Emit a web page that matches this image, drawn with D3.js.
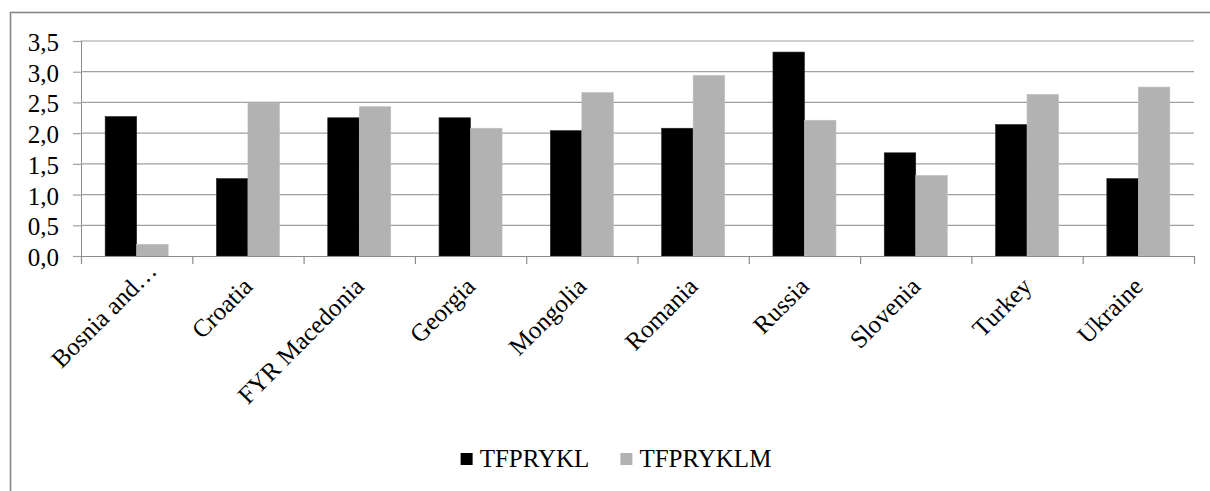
<!DOCTYPE html>
<html>
<head>
<meta charset="utf-8">
<script src="https://cdn.jsdelivr.net/npm/d3@7"></script>
</head>
<body style="margin:0;background:#fff">
<svg id="chart" width="1210" height="491" style="display:block"></svg>
<script>
// Countries on the category axis
const categories = ["Bosnia and\u2026", "Croatia", "FYR Macedonia", "Georgia", "Mongolia",
                    "Romania", "Russia", "Slovenia", "Turkey", "Ukraine"];
// Series names
const seriesNames = ["TFPRYKL", "TFPRYKLM"];
// Series values per country
const tfprykl  = [2.27, 1.26, 2.25, 2.25, 2.04, 2.08, 3.32, 1.68, 2.14, 1.26];
const tfpryklm = [0.19, 2.49, 2.43, 2.08, 2.66, 2.94, 2.21, 1.31, 2.63, 2.75];
// Value axis ticks
const yTicks = [0, 0.5, 1.0, 1.5, 2.0, 2.5, 3.0, 3.5];

const seriesValues = [tfprykl, tfpryklm];
const seriesColors = ["#000000", "#b2b2b2"];
const FONT = "Liberation Serif";
const FS = "25px";

const svg = d3.select("#chart");
const W = 1210, H = 491;
const plot = { left: 81, right: 1194, top: 41, bottom: 256 };

// Outer chart frame (extends past the right and bottom edge)
svg.append("rect")
  .attr("x", 10.5).attr("y", 12.5)
  .attr("width", W + 20).attr("height", H + 20)
  .attr("fill", "#fff")
  .attr("stroke", "#878787").attr("stroke-width", 1.6);

const x = d3.scaleBand()
  .domain(categories)
  .range([plot.left, plot.right])
  .paddingInner(0)
  .paddingOuter(0);

const y = d3.scaleLinear()
  .domain([0, 3.5])
  .range([plot.bottom, plot.top]);

const barGroupFrac = 0.566;
const x1 = d3.scaleBand()
  .domain(d3.range(seriesNames.length))
  .range([0, x.bandwidth() * barGroupFrac]);

// Value axis with tick marks
const yAxis = d3.axisLeft(y)
  .tickValues(yTicks)
  .tickSize(8)
  .tickPadding(14)
  .tickFormat(d => d3.format(".1f")(d).replace(".", ","));

const gy = svg.append("g")
  .attr("transform", `translate(${plot.left},0)`)
  .call(yAxis)
  .attr("font-family", FONT)
  .attr("font-size", FS);
gy.select(".domain").attr("stroke", "#8c8c8c").attr("stroke-width", 1)
  .attr("d", `M0.5,${plot.top}V${plot.bottom}`);
gy.selectAll(".tick line").attr("stroke", "#a0a0a0").attr("stroke-width", 1.2);
gy.selectAll(".tick text")
  .style("font-family", FONT)
  .style("font-size", FS)
  .attr("dy", "0.38em")
  .attr("fill", "#000");

// Gridlines across the plot
svg.append("g")
  .selectAll("line")
  .data(yTicks.filter(d => d > 0))
  .join("line")
  .attr("x1", plot.left).attr("x2", plot.right)
  .attr("y1", d => y(d)).attr("y2", d => y(d))
  .attr("stroke", "#a0a0a0").attr("stroke-width", 1.2);

// Bars
categories.forEach((c, i) => {
  const g = svg.append("g")
    .attr("transform", `translate(${x(c) + x.bandwidth() * (1 - barGroupFrac) / 2},0)`);
  seriesValues.forEach((vals, s) => {
    g.append("rect")
      .attr("x", x1(s))
      .attr("y", y(vals[i]))
      .attr("width", x1.bandwidth())
      .attr("height", y(0) - y(vals[i]))
      .attr("fill", seriesColors[s])
      .attr("stroke", s === 0 ? "#222" : "#bdbdbd")
      .attr("stroke-width", 0.6);
  });
});

// Category axis with tick marks on band boundaries
const gx = svg.append("g");
gx.append("line")
  .attr("x1", plot.left).attr("x2", plot.right)
  .attr("y1", plot.bottom + 0.5).attr("y2", plot.bottom + 0.5)
  .attr("stroke", "#8c8c8c").attr("stroke-width", 1.2);
gx.selectAll("line.tk")
  .data(categories.map(c => x(c)).concat([plot.right]))
  .join("line")
  .attr("class", "tk")
  .attr("x1", d => d + 0.5).attr("x2", d => d + 0.5)
  .attr("y1", plot.bottom).attr("y2", plot.bottom + 8)
  .attr("stroke", "#8c8c8c").attr("stroke-width", 1.2);

// Rotated category labels; a truncated label slides further along its baseline
gx.selectAll("text")
  .data(categories)
  .join("text")
  .attr("transform", d => {
    const slide = d.endsWith("\u2026") ? 22 : 0;
    const px = x(d) + x.bandwidth() / 2 + 6 + slide * Math.SQRT1_2;
    const py = plot.bottom + 32 - slide * Math.SQRT1_2;
    return `translate(${px},${py}) rotate(-45)`;
  })
  .attr("text-anchor", "end")
  .style("font-family", FONT)
  .style("font-size", FS)
  .text(d => d);

// Legend, centred under the chart
const legend = svg.append("g");
const legendItems = seriesNames.map((name, i) => ({ name, color: seriesColors[i] }));
const items = legend.selectAll("g")
  .data(legendItems)
  .join("g");
items.append("rect")
  .attr("x", 0).attr("y", -14)
  .attr("width", 12).attr("height", 12)
  .attr("fill", d => d.color);
items.append("text")
  .attr("x", 19).attr("y", 0)
  .style("font-family", FONT)
  .style("font-size", FS)
  .text(d => d.name);
const widths = [];
items.each(function () { widths.push(19 + d3.select(this).select("text").node().getComputedTextLength()); });
const gap = 31;
const total = d3.sum(widths) + gap * (widths.length - 1);
let cursor = 616 - total / 2;
items.attr("transform", (d, i) => {
  const t = `translate(${cursor},467)`;
  cursor += widths[i] + gap;
  return t;
});
</script>
</body>
</html>
